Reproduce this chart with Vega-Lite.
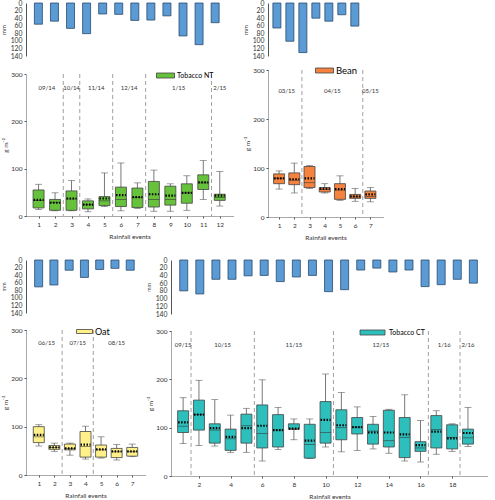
{
  "$schema": "https://vega.github.io/schema/vega-lite/v6.json",
  "padding": {"left": 0, "top": 0, "right": 0, "bottom": 0},
  "background": "white",
  "config": {
    "view": {"stroke": null},
    "font": "Lato",
    "axis": {"grid": false, "labelColor": "#333", "titleColor": "#333", "titleFontWeight": "normal", "domainColor": "#555", "tickColor": "#555", "labelFont": "Lato", "titleFont": "Lato"},
    "text": {"font": "Lato"},
    "legend": {"labelFont": "Lato", "padding": 0}
  },
  "datasets": {
    "nt": [
      {"event": 1, "month": "09/14", "crop": "Tobacco NT", "rain": 56, "min": 14, "q1": 17, "median": 33, "q3": 55, "max": 67, "mean": 34},
      {"event": 2, "month": "09/14", "crop": "Tobacco NT", "rain": 48, "min": 11, "q1": 12, "median": 29, "q3": 35, "max": 49, "mean": 28},
      {"event": 3, "month": "10/14", "crop": "Tobacco NT", "rain": 67, "min": 11, "q1": 12, "median": 36, "q3": 53, "max": 75, "mean": 37},
      {"event": 4, "month": "11/14", "crop": "Tobacco NT", "rain": 81, "min": 9, "q1": 15, "median": 24, "q3": 32, "max": 36, "mean": 24},
      {"event": 5, "month": "11/14", "crop": "Tobacco NT", "rain": 29, "min": 20, "q1": 22, "median": 32, "q3": 41, "max": 91, "mean": 37},
      {"event": 6, "month": "12/14", "crop": "Tobacco NT", "rain": 30, "min": 11, "q1": 20, "median": 35, "q3": 61, "max": 112, "mean": 44},
      {"event": 7, "month": "12/14", "crop": "Tobacco NT", "rain": 46, "min": 16, "q1": 18, "median": 39, "q3": 59, "max": 70, "mean": 40},
      {"event": 8, "month": "1/15", "crop": "Tobacco NT", "rain": 45, "min": 10, "q1": 19, "median": 35, "q3": 73, "max": 97, "mean": 46},
      {"event": 9, "month": "1/15", "crop": "Tobacco NT", "rain": 34, "min": 10, "q1": 23, "median": 35, "q3": 63, "max": 68, "mean": 43},
      {"event": 10, "month": "1/15", "crop": "Tobacco NT", "rain": 87, "min": 12, "q1": 27, "median": 49, "q3": 68, "max": 85, "mean": 49},
      {"event": 11, "month": "1/15", "crop": "Tobacco NT", "rain": 110, "min": 35, "q1": 56, "median": 70, "q3": 87, "max": 117, "mean": 71},
      {"event": 12, "month": "2/15", "crop": "Tobacco NT", "rain": 52, "min": 21, "q1": 33, "median": 39, "q3": 46, "max": 94, "mean": 43}
    ],
    "bean": [
      {"event": 1, "month": "03/15", "crop": "Bean", "rain": 66, "min": 57, "q1": 68, "median": 79, "q3": 88, "max": 94, "mean": 79},
      {"event": 2, "month": "03/15", "crop": "Bean", "rain": 101, "min": 49, "q1": 66, "median": 75, "q3": 90, "max": 110, "mean": 77},
      {"event": 3, "month": "04/15", "crop": "Bean", "rain": 131, "min": 58, "q1": 60, "median": 70, "q3": 103, "max": 105, "mean": 79},
      {"event": 4, "month": "04/15", "crop": "Bean", "rain": 40, "min": 49, "q1": 51, "median": 56, "q3": 60, "max": 68, "mean": 58},
      {"event": 5, "month": "04/15", "crop": "Bean", "rain": 48, "min": 34, "q1": 36, "median": 55, "q3": 68, "max": 84, "mean": 57},
      {"event": 6, "month": "04/15", "crop": "Bean", "rain": 31, "min": 32, "q1": 38, "median": 41, "q3": 46, "max": 58, "mean": 42},
      {"event": 7, "month": "05/15", "crop": "Bean", "rain": 61, "min": 31, "q1": 38, "median": 42, "q3": 53, "max": 60, "mean": 46}
    ],
    "oat": [
      {"event": 1, "month": "06/15", "crop": "Oat", "rain": 71, "min": 60, "q1": 67, "median": 79, "q3": 100, "max": 104, "mean": 83},
      {"event": 2, "month": "06/15", "crop": "Oat", "rain": 66, "min": 49, "q1": 53, "median": 57, "q3": 61, "max": 66, "mean": 57},
      {"event": 3, "month": "07/15", "crop": "Oat", "rain": 27, "min": 41, "q1": 52, "median": 55, "q3": 64, "max": 66, "mean": 55},
      {"event": 4, "month": "07/15", "crop": "Oat", "rain": 46, "min": 33, "q1": 37, "median": 59, "q3": 90, "max": 101, "mean": 63},
      {"event": 5, "month": "08/15", "crop": "Oat", "rain": 25, "min": 35, "q1": 37, "median": 52, "q3": 62, "max": 79, "mean": 53},
      {"event": 6, "month": "08/15", "crop": "Oat", "rain": 22, "min": 31, "q1": 36, "median": 48, "q3": 55, "max": 63, "mean": 49},
      {"event": 7, "month": "08/15", "crop": "Oat", "rain": 27, "min": 38, "q1": 39, "median": 48, "q3": 57, "max": 64, "mean": 49}
    ],
    "ct": [
      {"event": 1, "month": "09/15", "crop": "Tobacco CT", "rain": 80, "min": 67, "q1": 90, "median": 103, "q3": 135, "max": 162, "mean": 111},
      {"event": 2, "month": "10/15", "crop": "Tobacco CT", "rain": 88, "min": 63, "q1": 95, "median": 127, "q3": 157, "max": 198, "mean": 127},
      {"event": 3, "month": "10/15", "crop": "Tobacco CT", "rain": 50, "min": 62, "q1": 68, "median": 95, "q3": 108, "max": 158, "mean": 99},
      {"event": 4, "month": "10/15", "crop": "Tobacco CT", "rain": 50, "min": 49, "q1": 53, "median": 77, "q3": 97, "max": 126, "mean": 81},
      {"event": 5, "month": "10/15", "crop": "Tobacco CT", "rain": 41, "min": 49, "q1": 68, "median": 104, "q3": 128, "max": 140, "mean": 99},
      {"event": 6, "month": "11/15", "crop": "Tobacco CT", "rain": 40, "min": 31, "q1": 58, "median": 88, "q3": 147, "max": 199, "mean": 104},
      {"event": 7, "month": "11/15", "crop": "Tobacco CT", "rain": 56, "min": 55, "q1": 60, "median": 95, "q3": 127, "max": 142, "mean": 95},
      {"event": 8, "month": "11/15", "crop": "Tobacco CT", "rain": 44, "min": 75, "q1": 97, "median": 97, "q3": 108, "max": 118, "mean": 98},
      {"event": 9, "month": "11/15", "crop": "Tobacco CT", "rain": 40, "min": 36, "q1": 37, "median": 65, "q3": 107, "max": 118, "mean": 73},
      {"event": 10, "month": "11/15", "crop": "Tobacco CT", "rain": 82, "min": 60, "q1": 68, "median": 90, "q3": 154, "max": 211, "mean": 116},
      {"event": 11, "month": "12/15", "crop": "Tobacco CT", "rain": 77, "min": 50, "q1": 75, "median": 100, "q3": 137, "max": 173, "mean": 105},
      {"event": 12, "month": "12/15", "crop": "Tobacco CT", "rain": 26, "min": 53, "q1": 87, "median": 101, "q3": 121, "max": 143, "mean": 101},
      {"event": 13, "month": "12/15", "crop": "Tobacco CT", "rain": 21, "min": 56, "q1": 66, "median": 93, "q3": 107, "max": 123, "mean": 90},
      {"event": 14, "month": "12/15", "crop": "Tobacco CT", "rain": 31, "min": 47, "q1": 60, "median": 73, "q3": 136, "max": 138, "mean": 90},
      {"event": 15, "month": "12/15", "crop": "Tobacco CT", "rain": 26, "min": 31, "q1": 38, "median": 80, "q3": 121, "max": 168, "mean": 86},
      {"event": 16, "month": "12/15", "crop": "Tobacco CT", "rain": 69, "min": 29, "q1": 51, "median": 58, "q3": 71, "max": 115, "mean": 64},
      {"event": 17, "month": "1/16", "crop": "Tobacco CT", "rain": 64, "min": 45, "q1": 58, "median": 96, "q3": 125, "max": 135, "mean": 92},
      {"event": 18, "month": "1/16", "crop": "Tobacco CT", "rain": 50, "min": 51, "q1": 56, "median": 80, "q3": 106, "max": 108, "mean": 78},
      {"event": 19, "month": "2/16", "crop": "Tobacco CT", "rain": 60, "min": 61, "q1": 66, "median": 79, "q3": 97, "max": 142, "mean": 89}
    ],
    "sep_nt": [{"b": 2.5}, {"b": 3.5}, {"b": 5.5}, {"b": 7.5}, {"b": 11.5}],
    "sep_bean": [{"b": 2.5}, {"b": 6.5}],
    "sep_oat": [{"b": 2.5}, {"b": 4.5}],
    "sep_ct": [{"b": 1.5}, {"b": 5.5}, {"b": 10.5}, {"b": 16.5}, {"b": 18.5}]
  },
  "resolve": {"scale": {"color": "independent"}, "legend": {"color": "independent"}},
  "spacing": 16,
  "vconcat": [
    {
      "hconcat": [
        {
          "vconcat": [
            {
              "width": 207, "height": 53,
              "data": {"name": "nt"},
              "mark": {"type": "bar", "width": 8, "fill": "#5B9BD5", "stroke": "#2B4A6B", "strokeWidth": 0.8},
              "encoding": {
                "x": {"field": "event", "type": "quantitative", "scale": {"domain": [0.54, 12.8], "nice": false, "zero": false}, "axis": null},
                "y": {"field": "rain", "type": "quantitative", "scale": {"domain": [0, 140], "reverse": true, "nice": false}, "axis": {"values": [0, 20, 40, 60, 80, 100, 120, 140], "title": "mm", "ticks": false, "labelFontSize": 6.8, "titleFontSize": 6, "labelPadding": 4, "titlePadding": 4}}
              }
            },
            {
              "width": 207, "height": 142,
              "data": {"name": "nt"},
              "encoding": {
                "x": {"field": "event", "type": "quantitative", "scale": {"domain": [0.54, 12.5], "nice": false, "zero": false}, "title": "Rainfall events", "axis": {"values": [1,2,3,4,5,6,7,8,9,10,11,12], "domainDash": [1, 1], "tickSize": 2, "labelFontSize": 6.5, "titleFontSize": 6.5, "labelPadding": 3, "titlePadding": 6}}
              },
              "layer": [
                {"data": {"name": "sep_nt"}, "mark": {"type": "rule", "strokeDash": [4, 3], "color": "#888", "strokeWidth": 0.8}, "encoding": {"x": {"field": "b", "type": "quantitative", "title": "Rainfall events"}}},
                {"mark": {"type": "rule", "color": "#555", "strokeWidth": 0.8}, "encoding": {"y": {"field": "min", "type": "quantitative", "scale": {"domain": [0, 300], "nice": false}, "title": "g m⁻²", "axis": {"values": [0, 50, 100, 150, 200, 250, 300], "domainDash": [1, 1], "tickSize": 2, "labelFontSize": 6.5, "titleFontSize": 6.5, "labelPadding": 2, "titlePadding": 2}}, "y2": {"field": "max"}}},
                {"mark": {"type": "tick", "orient": "horizontal", "size": 7, "thickness": 0.8, "color": "#555"}, "encoding": {"y": {"field": "min", "type": "quantitative", "title": "g m⁻²"}}},
                {"mark": {"type": "tick", "orient": "horizontal", "size": 7, "thickness": 0.8, "color": "#555"}, "encoding": {"y": {"field": "max", "type": "quantitative", "title": "g m⁻²"}}},
                {"mark": {"type": "bar", "width": 11, "stroke": "#444", "strokeWidth": 0.8}, "encoding": {"y": {"field": "q1", "type": "quantitative", "title": "g m⁻²"}, "y2": {"field": "q3"}, "color": {"field": "crop", "type": "nominal", "scale": {"range": ["#66C23A"]}, "legend": {"orient": "none", "legendX": 134, "legendY": -4, "title": null, "symbolType": "M-1.8,-0.5H1.8V0.5H-1.8Z", "symbolSize": 100, "symbolStrokeColor": "#444", "symbolStrokeWidth": 0.8, "labelFontSize": 7, "labelOffset": 6}}}},
                {"mark": {"type": "tick", "orient": "horizontal", "size": 11, "thickness": 0.8, "color": "#333"}, "encoding": {"y": {"field": "median", "type": "quantitative", "title": "g m⁻²"}}},
                {"mark": {"type": "rule", "strokeDash": [1.5, 1.5], "strokeWidth": 2.2, "color": "#000", "xOffset": -5, "x2Offset": 5}, "encoding": {"x2": {"field": "event"}, "y": {"field": "mean", "type": "quantitative", "title": "g m⁻²"}}},
                {"mark": {"type": "text", "fontSize": 6, "color": "#333"}, "encoding": {"x": {"aggregate": "mean", "field": "event", "type": "quantitative", "title": "Rainfall events"}, "y": {"datum": 271, "type": "quantitative"}, "text": {"field": "month"}}}
              ]
            }
          ],
          "spacing": 10,
          "align": "each",
          "resolve": {"scale": {"color": "independent"}, "legend": {"color": "independent"}}
        },
        {
          "vconcat": [
            {
              "width": 100, "height": 53,
              "data": {"name": "bean"},
              "mark": {"type": "bar", "width": 8, "fill": "#5B9BD5", "stroke": "#2B4A6B", "strokeWidth": 0.8},
              "encoding": {
                "x": {"field": "event", "type": "quantitative", "scale": {"domain": [0.7, 7.63], "nice": false, "zero": false}, "axis": null},
                "y": {"field": "rain", "type": "quantitative", "scale": {"domain": [0, 140], "reverse": true, "nice": false}, "axis": {"values": [0, 20, 40, 60, 80, 100, 120, 140], "title": "mm", "ticks": false, "labelFontSize": 6.8, "titleFontSize": 6, "labelPadding": 4, "titlePadding": 4}}
              }
            },
            {
              "width": 115, "height": 147,
              "data": {"name": "bean"},
              "encoding": {
                "x": {"field": "event", "type": "quantitative", "scale": {"domain": [0.6, 7.5], "nice": false, "zero": false}, "title": "Rainfall events", "axis": {"values": [1,2,3,4,5,6,7], "domainDash": [1, 1], "tickSize": 2, "labelFontSize": 6.5, "titleFontSize": 6.5, "labelPadding": 3, "titlePadding": 6}}
              },
              "layer": [
                {"data": {"name": "sep_bean"}, "mark": {"type": "rule", "strokeDash": [4, 3], "color": "#888", "strokeWidth": 0.8}, "encoding": {"x": {"field": "b", "type": "quantitative", "title": "Rainfall events"}}},
                {"mark": {"type": "rule", "color": "#555", "strokeWidth": 0.8}, "encoding": {"y": {"field": "min", "type": "quantitative", "scale": {"domain": [0, 300], "nice": false}, "title": "g m⁻²", "axis": {"values": [0, 50, 100, 150, 200, 250, 300], "domainDash": [1, 1], "tickSize": 2, "labelFontSize": 6.5, "titleFontSize": 6.5, "labelPadding": 2, "titlePadding": 2}}, "y2": {"field": "max"}}},
                {"mark": {"type": "tick", "orient": "horizontal", "size": 7, "thickness": 0.8, "color": "#555"}, "encoding": {"y": {"field": "min", "type": "quantitative", "title": "g m⁻²"}}},
                {"mark": {"type": "tick", "orient": "horizontal", "size": 7, "thickness": 0.8, "color": "#555"}, "encoding": {"y": {"field": "max", "type": "quantitative", "title": "g m⁻²"}}},
                {"mark": {"type": "bar", "width": 11, "stroke": "#444", "strokeWidth": 0.8}, "encoding": {"y": {"field": "q1", "type": "quantitative", "title": "g m⁻²"}, "y2": {"field": "q3"}, "color": {"field": "crop", "type": "nominal", "scale": {"range": ["#F5823F"]}, "legend": {"orient": "none", "legendX": 51, "legendY": -5, "title": null, "symbolType": "M-1.8,-0.5H1.8V0.5H-1.8Z", "symbolSize": 100, "symbolStrokeColor": "#444", "symbolStrokeWidth": 0.8, "labelFontSize": 9.5, "labelOffset": 6}}}},
                {"mark": {"type": "tick", "orient": "horizontal", "size": 11, "thickness": 0.8, "color": "#333"}, "encoding": {"y": {"field": "median", "type": "quantitative", "title": "g m⁻²"}}},
                {"mark": {"type": "rule", "strokeDash": [1.5, 1.5], "strokeWidth": 2.2, "color": "#000", "xOffset": -5, "x2Offset": 5}, "encoding": {"x2": {"field": "event"}, "y": {"field": "mean", "type": "quantitative", "title": "g m⁻²"}}},
                {"mark": {"type": "text", "fontSize": 6, "color": "#333"}, "encoding": {"x": {"aggregate": "mean", "field": "event", "type": "quantitative", "title": "Rainfall events"}, "y": {"datum": 258, "type": "quantitative"}, "text": {"field": "month"}}}
              ]
            }
          ],
          "spacing": 5,
          "align": "each",
          "resolve": {"scale": {"color": "independent"}, "legend": {"color": "independent"}}
        }
      ],
      "spacing": 9,
      "resolve": {"scale": {"color": "independent"}, "legend": {"color": "independent"}}
    },
    {
      "hconcat": [
        {
          "vconcat": [
            {
              "width": 119, "height": 53,
              "data": {"name": "oat"},
              "mark": {"type": "bar", "width": 8, "fill": "#5B9BD5", "stroke": "#2B4A6B", "strokeWidth": 0.8},
              "encoding": {
                "x": {"field": "event", "type": "quantitative", "scale": {"domain": [0.5, 7.64], "nice": false, "zero": false}, "axis": null},
                "y": {"field": "rain", "type": "quantitative", "scale": {"domain": [0, 140], "reverse": true, "nice": false}, "axis": {"values": [0, 20, 40, 60, 80, 100, 120, 140], "title": "mm", "ticks": false, "labelFontSize": 6.8, "titleFontSize": 5.5, "labelPadding": 4, "titlePadding": 4}}
              }
            },
            {
              "width": 119, "height": 145,
              "data": {"name": "oat"},
              "encoding": {
                "x": {"field": "event", "type": "quantitative", "scale": {"domain": [0.5, 7.5], "nice": false, "zero": false}, "title": "Rainfall events", "axis": {"values": [1,2,3,4,5,6,7], "domainDash": [1, 1], "tickSize": 2, "labelFontSize": 6.5, "titleFontSize": 6.5, "labelPadding": 3, "titlePadding": 6}}
              },
              "layer": [
                {"data": {"name": "sep_oat"}, "mark": {"type": "rule", "strokeDash": [4, 3], "color": "#888", "strokeWidth": 0.8}, "encoding": {"x": {"field": "b", "type": "quantitative", "title": "Rainfall events"}}},
                {"mark": {"type": "rule", "color": "#555", "strokeWidth": 0.8}, "encoding": {"y": {"field": "min", "type": "quantitative", "scale": {"domain": [0, 300], "nice": false}, "title": "g m⁻²", "axis": {"values": [0, 50, 100, 150, 200, 250, 300], "domainDash": [1, 1], "tickSize": 2, "labelFontSize": 6.5, "titleFontSize": 6.5, "labelPadding": 2, "titlePadding": 2}}, "y2": {"field": "max"}}},
                {"mark": {"type": "tick", "orient": "horizontal", "size": 7, "thickness": 0.8, "color": "#555"}, "encoding": {"y": {"field": "min", "type": "quantitative", "title": "g m⁻²"}}},
                {"mark": {"type": "tick", "orient": "horizontal", "size": 7, "thickness": 0.8, "color": "#555"}, "encoding": {"y": {"field": "max", "type": "quantitative", "title": "g m⁻²"}}},
                {"mark": {"type": "bar", "width": 11, "stroke": "#444", "strokeWidth": 0.8}, "encoding": {"y": {"field": "q1", "type": "quantitative", "title": "g m⁻²"}, "y2": {"field": "q3"}, "color": {"field": "crop", "type": "nominal", "scale": {"range": ["#FFF08A"]}, "legend": {"orient": "none", "legendX": 53, "legendY": -4, "title": null, "symbolType": "M-1.6,-0.4H1.6V0.4H-1.6Z", "symbolSize": 100, "symbolStrokeColor": "#444", "symbolStrokeWidth": 0.8, "labelFontSize": 9, "labelOffset": 5}}}},
                {"mark": {"type": "tick", "orient": "horizontal", "size": 11, "thickness": 0.8, "color": "#333"}, "encoding": {"y": {"field": "median", "type": "quantitative", "title": "g m⁻²"}}},
                {"mark": {"type": "rule", "strokeDash": [1.5, 1.5], "strokeWidth": 2.2, "color": "#000", "xOffset": -5, "x2Offset": 5}, "encoding": {"x2": {"field": "event"}, "y": {"field": "mean", "type": "quantitative", "title": "g m⁻²"}}},
                {"mark": {"type": "text", "fontSize": 6, "color": "#333"}, "encoding": {"x": {"aggregate": "mean", "field": "event", "type": "quantitative", "title": "Rainfall events"}, "y": {"datum": 274, "type": "quantitative"}, "text": {"field": "month"}}}
              ]
            }
          ],
          "spacing": 9,
          "align": "each",
          "resolve": {"scale": {"color": "independent"}, "legend": {"color": "independent"}}
        },
        {
          "vconcat": [
            {
              "width": 317, "height": 54,
              "data": {"name": "ct"},
              "mark": {"type": "bar", "width": 8, "fill": "#5B9BD5", "stroke": "#2B4A6B", "strokeWidth": 0.8},
              "encoding": {
                "x": {"field": "event", "type": "quantitative", "scale": {"domain": [0.52, 19.6], "nice": false, "zero": false}, "axis": null},
                "y": {"field": "rain", "type": "quantitative", "scale": {"domain": [0, 140], "reverse": true, "nice": false}, "axis": {"values": [0, 20, 40, 60, 80, 100, 120, 140], "title": "mm", "ticks": false, "labelFontSize": 6.8, "titleFontSize": 5.5, "labelPadding": 4, "titlePadding": 4}}
              }
            },
            {
              "width": 317, "height": 145,
              "data": {"name": "ct"},
              "encoding": {
                "x": {"field": "event", "type": "quantitative", "scale": {"domain": [0.55, 19.95], "nice": false, "zero": false}, "title": "Rainfall events", "axis": {"values": [2,4,6,8,10,12,14,16,18], "domainDash": [1, 1], "tickSize": 2, "labelFontSize": 6.5, "titleFontSize": 6.5, "labelPadding": 3, "titlePadding": 6}}
              },
              "layer": [
                {"data": {"name": "sep_ct"}, "mark": {"type": "rule", "strokeDash": [4, 3], "color": "#888", "strokeWidth": 0.8}, "encoding": {"x": {"field": "b", "type": "quantitative", "title": "Rainfall events"}}},
                {"mark": {"type": "rule", "color": "#555", "strokeWidth": 0.8}, "encoding": {"y": {"field": "min", "type": "quantitative", "scale": {"domain": [0, 300], "nice": false}, "title": "g m⁻²", "axis": {"values": [0, 50, 100, 150, 200, 250, 300], "domainDash": [1, 1], "tickSize": 2, "labelFontSize": 6.5, "titleFontSize": 6.5, "labelPadding": 2, "titlePadding": 2}}, "y2": {"field": "max"}}},
                {"mark": {"type": "tick", "orient": "horizontal", "size": 7, "thickness": 0.8, "color": "#555"}, "encoding": {"y": {"field": "min", "type": "quantitative", "title": "g m⁻²"}}},
                {"mark": {"type": "tick", "orient": "horizontal", "size": 7, "thickness": 0.8, "color": "#555"}, "encoding": {"y": {"field": "max", "type": "quantitative", "title": "g m⁻²"}}},
                {"mark": {"type": "bar", "width": 11, "stroke": "#444", "strokeWidth": 0.8}, "encoding": {"y": {"field": "q1", "type": "quantitative", "title": "g m⁻²"}, "y2": {"field": "q3"}, "color": {"field": "crop", "type": "nominal", "scale": {"range": ["#2DBFBC"]}, "legend": {"orient": "none", "legendX": 196, "legendY": -4, "title": null, "symbolType": "M-2.5,-0.5H2.5V0.5H-2.5Z", "symbolSize": 100, "symbolStrokeColor": "#444", "symbolStrokeWidth": 0.8, "labelFontSize": 7, "labelOffset": 11}}}},
                {"mark": {"type": "tick", "orient": "horizontal", "size": 11, "thickness": 0.8, "color": "#333"}, "encoding": {"y": {"field": "median", "type": "quantitative", "title": "g m⁻²"}}},
                {"mark": {"type": "rule", "strokeDash": [1.5, 1.5], "strokeWidth": 2.2, "color": "#000", "xOffset": -5, "x2Offset": 5}, "encoding": {"x2": {"field": "event"}, "y": {"field": "mean", "type": "quantitative", "title": "g m⁻²"}}},
                {"mark": {"type": "text", "fontSize": 6, "color": "#333"}, "encoding": {"x": {"aggregate": "mean", "field": "event", "type": "quantitative", "title": "Rainfall events"}, "y": {"datum": 272, "type": "quantitative"}, "text": {"field": "month"}}}
              ]
            }
          ],
          "spacing": 9,
          "align": "each",
          "resolve": {"scale": {"color": "independent"}, "legend": {"color": "independent"}}
        }
      ],
      "spacing": 1,
      "resolve": {"scale": {"color": "independent"}, "legend": {"color": "independent"}}
    }
  ]
}
